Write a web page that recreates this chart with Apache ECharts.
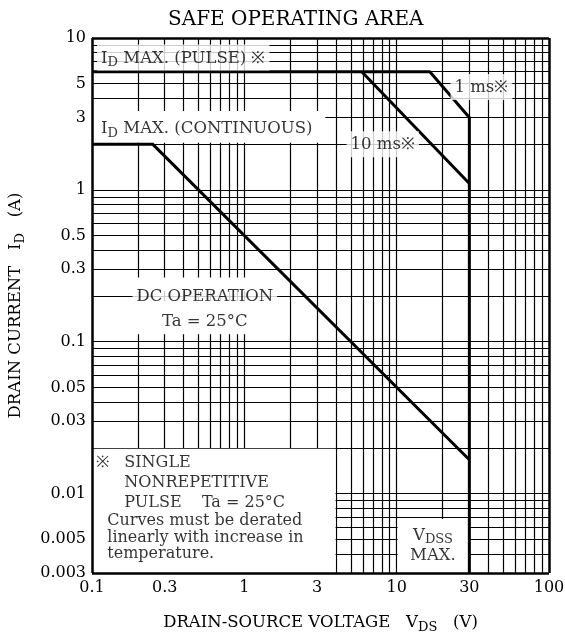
<!DOCTYPE html>
<html>
<head>
<meta charset="utf-8">
<script src="https://cdn.jsdelivr.net/npm/echarts@6/dist/echarts.min.js"></script>
<style>
html, body { margin: 0; padding: 0; background: #fff; }
#main { width: 565px; height: 636px; }
</style>
</head>
<body>
<div id="main"></div>
<script>
var myChart = echarts.init(document.getElementById('main'));
var FONT = 'DejaVu Serif';

// tick labels
var xTicks = [0.1, 0.3, 1, 3, 10, 30, 100];
var yTicks = [0.003, 0.005, 0.01, 0.03, 0.05, 0.1, 0.3, 0.5, 1, 3, 5, 10];

// log grid lines
var xGrid = [0.2, 0.3, 0.4, 0.5, 0.6, 0.7, 0.8, 0.9, 1,
             2, 3, 4, 5, 6, 7, 8, 9, 10,
             20, 30, 40, 50, 60, 70, 80, 90];
var yGrid = [0.004, 0.005, 0.006, 0.007, 0.008, 0.009, 0.01,
             0.02, 0.03, 0.04, 0.05, 0.06, 0.07, 0.08, 0.09, 0.1,
             0.2, 0.3, 0.4, 0.5, 0.6, 0.7, 0.8, 0.9, 1,
             2, 3, 4, 5, 6, 7, 8, 9];

// curves (VDS, ID)
var dcLine = [[0.1, 2], [0.25, 2], [30, 0.0167]];
var pulseLine = [[0.1, 6], [16.5, 6], [30, 3], [30, 0.003]];
var ms10Line = [[5.9, 6], [30, 1.1]];

// white blank areas of the printed grid [[x1,y1],[x2,y2]]
var blanks = [
    [[0.1, 0.003], [3.97, 0.0197]],
    [[0.1, 2.04], [3.4, 3.3]],
    [[0.1, 0.112], [1.97, 0.185]],
    [[0.1, 0.215], [1.97, 0.265]],
    [[10.15, 0.003], [29.6, 0.0068]]
];

// annotations: position, text, anchor
var notes = [
    {value: [0.108, 7.45], text: '{n|I}{s|D}{n| MAX. (PULSE) ※}', pos: 'right', bg: true},
    {value: [0.108, 2.55], text: '{n|I}{s|D}{n| MAX. (CONTINUOUS)}', pos: 'right', bg: true},
    {value: [8.1, 2.0], text: '{n|10 ms※}', pos: 'inside', bg: true},
    {value: [36, 4.75], text: '{n|1 ms※}', pos: 'inside', bg: true},
    {value: [0.55, 0.2], text: '{n|DC OPERATION}', pos: 'inside', bg: true},
    {value: [0.55, 0.136], text: '{n|Ta = 25°C}', pos: 'inside', bg: false},
    {value: [0.1164, 0.016], text: '{m|※}', pos: 'inside', bg: false},
    {value: [0.163, 0.0118], text: '{m|SINGLE}\n{m|NONREPETITIVE}\n{m|PULSE    Ta = 25°C}', pos: 'right', bg: false, lh: 20},
    {value: [0.126, 0.00514], text: '{m|Curves must be derated}\n{m|linearly with increase in}\n{m|temperature.}', pos: 'right', bg: false, lh: 16.5},
    {value: [17.3, 0.00455], text: '{n|V}{s|DSS}\n{n|MAX.}', pos: 'inside', bg: false, lh: 20}
];

var rich = {
    n: {fontFamily: FONT, fontSize: 16.5, color: '#000'},
    m: {fontFamily: FONT, fontSize: 16, color: '#000'},
    s: {fontFamily: FONT, fontSize: 13, color: '#000', padding: [9, 0, 0, 0]}
};

function lineMarks(list, key) {
    return list.map(function (v) {
        var o = {};
        o[key] = v;
        return o;
    });
}

var option = {
    backgroundColor: '#fff',
    animation: false,
    title: {
        text: 'SAFE OPERATING AREA',
        left: 163,
        top: 5,
        textStyle: {fontFamily: FONT, fontSize: 20, fontWeight: 'normal', color: '#000'}
    },
    grid: {left: 92, right: 16, top: 38, bottom: 63, outerBoundsMode: 'none'},
    xAxis: {
        type: 'log',
        logBase: 10,
        min: 0.1,
        max: 100,
        name: '{n|DRAIN-SOURCE VOLTAGE   V}{s|DS}{n|   (V)}',
        nameLocation: 'middle',
        nameGap: 39,
        nameTextStyle: {rich: rich},
        axisLine: {show: false},
        axisTick: {show: false},
        splitLine: {show: false},
        axisLabel: {
            customValues: xTicks,
            margin: 7,
            fontFamily: FONT,
            fontSize: 16,
            color: '#000',
            formatter: function (v) { return String(+v.toPrecision(3)); }
        }
    },
    yAxis: {
        type: 'log',
        logBase: 10,
        min: 0.003,
        max: 10,
        name: '{n|DRAIN CURRENT   I}{s|D}{n|   (A)}',
        nameLocation: 'middle',
        nameRotate: 90,
        nameGap: 65,
        nameTextStyle: {rich: rich},
        axisLine: {show: false},
        axisTick: {show: false},
        splitLine: {show: false},
        axisLabel: {
            customValues: yTicks,
            margin: 6,
            fontFamily: FONT,
            fontSize: 16,
            color: '#000',
            formatter: function (v) { return String(+v.toPrecision(3)); }
        }
    },
    series: [
        {
            // thin grid
            type: 'line',
            data: [],
            silent: true,
            markLine: {
                z: 1,
                silent: true,
                precision: 6,
                symbol: 'none',
                animation: false,
                label: {show: false},
                lineStyle: {color: '#000', width: 1.2, type: 'solid'},
                data: lineMarks(xGrid, 'xAxis').concat(lineMarks(yGrid, 'yAxis'))
            }
        },
        {
            // blank paper areas
            type: 'line',
            data: [],
            silent: true,
            markArea: {
                z: 2,
                silent: true,
                itemStyle: {color: '#fff', opacity: 1},
                data: blanks.map(function (b) {
                    return [{coord: b[0]}, {coord: b[1]}];
                })
            }
        },
        {
            type: 'line', name: 'cont', data: dcLine, z: 3, showSymbol: false, silent: true,
            lineStyle: {color: '#000', width: 3}
        },
        {
            type: 'line', name: 'pulse', data: pulseLine, z: 3, showSymbol: false, silent: true,
            lineStyle: {color: '#000', width: 3},
            markLine: {
                // frame
                z: 4,
                silent: true,
                precision: 6,
                symbol: 'none',
                label: {show: false},
                lineStyle: {color: '#000', width: 2.5, type: 'solid'},
                data: [{xAxis: 0.1}, {xAxis: 100}, {yAxis: 0.003}, {yAxis: 10}]
            }
        },
        {
            type: 'line', name: '10ms', data: ms10Line, z: 3, showSymbol: false, silent: true,
            lineStyle: {color: '#000', width: 3}
        },
        {
            type: 'scatter',
            z: 5,
            silent: true,
            symbolSize: 0,
            clip: false,
            data: notes.map(function (d) {
                return {
                    value: d.value,
                    label: {
                        show: true,
                        position: d.pos,
                        distance: 0,
                        formatter: d.text,
                        rich: rich,
                        lineHeight: d.lh || 18,
                        backgroundColor: d.bg ? '#fff' : 'transparent',
                        padding: d.bg ? [5, 4, 3, 4] : 0
                    }
                };
            })
        }
    ]
};

myChart.setOption(option);
</script>
</body>
</html>
